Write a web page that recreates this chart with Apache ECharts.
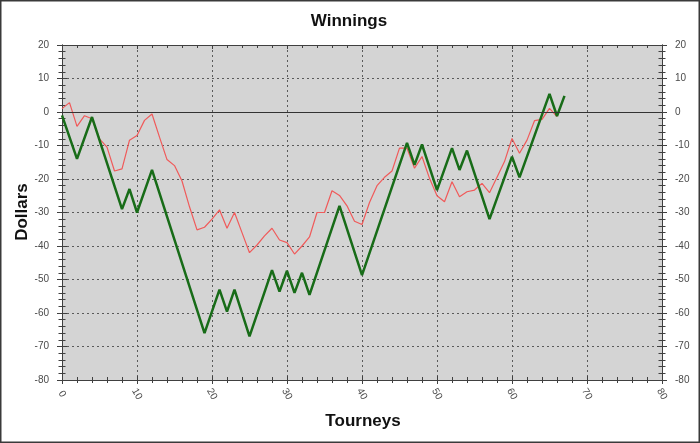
<!DOCTYPE html>
<html>
<head>
<meta charset="utf-8">
<script src="https://cdn.jsdelivr.net/npm/echarts@6/dist/echarts.min.js"></script>
<style>
html,body{margin:0;padding:0;background:#fff;}
#chart{width:700px;height:443px;}
</style>
</head>
<body>
<div id="chart"></div>
<script>
// Data
var titleText = 'Winnings';
var xName = 'Tourneys';
var yName = 'Dollars';
var xTicks = [0, 10, 20, 30, 40, 50, 60, 70, 80];
var yTicks = [-80, -70, -60, -50, -40, -30, -20, -10, 0, 10, 20];

// Green series: turning points (tourney, dollars)
var greenX = [0, 2, 4, 8, 9, 10, 12, 19, 21, 22, 23, 25, 28, 29, 30, 31, 32, 33, 37, 40, 46, 47, 48, 50, 52, 53, 54, 57, 60, 61, 65, 66, 67];
var greenY = [-1, -14, -1.5, -29, -23, -30, -17.3, -66, -53, -59.6, -53, -67, -47.2, -53.6, -47.4, -54, -48, -54.6, -28, -48.7, -9.2, -15.8, -9.7, -23.3, -10.8, -17.3, -11.5, -32, -13.3, -19.5, 5.4, -1.2, 4.8];

// Red series: value at each tourney 0..66
var redY = [1, 2.8, -4.3, -1.1, -2, -8, -10.5, -17.6, -17, -8.4, -7, -2.5, -0.6, -7.5, -14.2, -16, -20.6, -28.3, -35.2, -34.4,
            -32, -29.2, -34.7, -30, -36, -42, -39.7, -37, -34.7, -38.2, -39, -42.4, -40, -37.3, -30, -30, -23.5, -24.9, -28, -32.6,
            -33.6, -27, -22, -19.5, -17.6, -10.8, -10.8, -16.8, -13.3, -19.8, -25, -26.8, -20.8, -25.3, -23.8, -23.3, -21.3, -24.1, -19.5, -14.8,
            -7.9, -12.3, -8.4, -2.6, -2.2, 1.1, -1.4];

var greenData = greenX.map(function (x, i) { return [x, greenY[i]]; });
var redData = redY.map(function (y, i) { return [i, y]; });

var axisColor = '#404040';
var labelColor = '#4a4a4a';
var font = 'Liberation Sans, Arial, sans-serif';

function xAx(pos, inside, labels, split) {
  return {
    type: 'value', min: xTicks[0], max: xTicks[xTicks.length - 1], interval: 10, position: pos,
    axisLine: { show: true, onZero: false, lineStyle: { color: axisColor, width: 1 } },
    axisTick: { show: true, inside: inside, length: 4, lineStyle: { color: axisColor } },
    minorTick: { show: true, splitNumber: 5, length: 3, lineStyle: { color: axisColor } },
    axisLabel: labels ? { show: true, rotate: -60, color: labelColor, fontSize: 10, fontFamily: font, margin: 14, align: 'center', verticalAlign: 'middle' } : { show: false },
    splitLine: split ? { show: true, lineStyle: { color: '#5a5a5a', type: [2, 3], width: 1 } } : { show: false },
    minorSplitLine: { show: false }
  };
}
function yAx(pos, inside, labels, split) {
  return {
    type: 'value', min: yTicks[0], max: yTicks[yTicks.length - 1], interval: 10, position: pos,
    axisLine: { show: true, onZero: false, lineStyle: { color: axisColor, width: 1 } },
    axisTick: { show: true, inside: inside, length: 5, lineStyle: { color: axisColor } },
    minorTick: { show: true, splitNumber: 5, length: 3.5, lineStyle: { color: axisColor } },
    axisLabel: labels ? { show: true, color: labelColor, fontSize: 10, fontFamily: font, margin: 13 } : { show: false },
    splitLine: split ? { show: true, lineStyle: { color: '#5a5a5a', type: [2, 3], width: 1 } } : { show: false },
    minorSplitLine: { show: false }
  };
}

var chart = echarts.init(document.getElementById('chart'), null, { renderer: 'canvas' });
chart.setOption({
  animation: false,
  backgroundColor: '#ffffff',
  grid: { left: 62, right: 38, top: 45, bottom: 63, show: true, backgroundColor: '#d4d4d4', borderWidth: 0 },
  xAxis: [
    xAx('bottom', false, true, true),
    xAx('bottom', true, false, false),
    xAx('top', true, false, false)
  ],
  yAxis: [
    yAx('left', false, true, true),
    yAx('left', true, false, false),
    yAx('right', false, true, false),
    yAx('right', true, false, false)
  ],
  series: [
    {
      type: 'line', name: 'Zero', xAxisIndex: 0, yAxisIndex: 0, data: [], silent: true,
      markLine: { silent: true, symbol: 'none', label: { show: false },
        lineStyle: { color: '#333', type: 'solid', width: 1 }, data: [{ yAxis: 0 }] }
    },
    {
      type: 'line', name: 'Red', data: redData, xAxisIndex: 0, yAxisIndex: 0,
      showSymbol: false, symbol: 'none', z: 3,
      lineStyle: { color: '#f05a5a', width: 1.2 }
    },
    {
      type: 'line', name: 'Green', data: greenData, xAxisIndex: 0, yAxisIndex: 0,
      showSymbol: false, symbol: 'none', z: 4,
      lineStyle: { color: '#186c18', width: 2.5 }
    }
  ],
  graphic: [
    { type: 'rect', shape: { x: 0.75, y: 0.75, width: 698.5, height: 441.5 }, style: { fill: 'none', stroke: '#3a3a3a', lineWidth: 1.5 }, z: 100 },
    { type: 'text', x: 349, y: 21, style: { text: titleText, font: 'bold 17px ' + font, fill: '#111', textAlign: 'center', textVerticalAlign: 'middle' } },
    { type: 'text', x: 363, y: 421, style: { text: xName, font: 'bold 17px ' + font, fill: '#111', textAlign: 'center', textVerticalAlign: 'middle' } },
    { type: 'text', x: 22, y: 212, rotation: Math.PI / 2, style: { text: yName, font: 'bold 17px ' + font, fill: '#111', textAlign: 'center', textVerticalAlign: 'middle' } }
  ]
});
</script>
</body>
</html>
